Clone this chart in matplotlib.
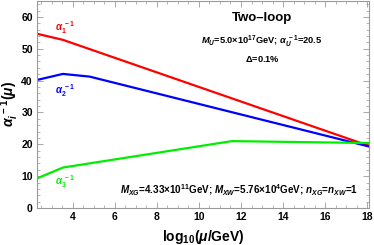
import matplotlib
matplotlib.use("Agg")
import matplotlib.pyplot as plt
from matplotlib.ticker import MultipleLocator

plt.rcParams['font.family'] = ['Liberation Sans', 'DejaVu Sans']
plt.rcParams['font.weight'] = 'bold'
plt.rcParams['mathtext.fontset'] = 'custom'
plt.rcParams['mathtext.rm'] = 'Liberation Sans:bold'
plt.rcParams['mathtext.it'] = 'Liberation Sans:bold:italic'
plt.rcParams['mathtext.bf'] = 'Liberation Sans:bold'

# running couplings (log10 mu, alpha^-1)
x1 = [2.29, 3.52, 18.1]
a1 = [54.7, 52.8, 19.5]
x2 = [2.29, 3.52, 4.8, 18.1]
a2 = [40.2, 42.1, 41.25, 19.3]
x3 = [2.29, 3.52, 11.57, 18.1]
a3 = [9.3, 12.7, 21.0, 20.4]

fig = plt.figure(figsize=(3.74, 2.45), dpi=100)
ax = fig.add_axes([0.099, 0.151, 0.888, 0.845])

ax.plot(x1, a1, color='#ff0000', lw=1.6)
ax.plot(x2, a2, color='#0000ff', lw=1.6)
ax.plot(x3, a3, color='#00ee00', lw=1.6)

ax.set_xlim(2.29, 18.1)
ax.set_ylim(0, 65)
ax.xaxis.set_major_locator(MultipleLocator(2))
ax.xaxis.set_minor_locator(MultipleLocator(0.5))
ax.yaxis.set_major_locator(MultipleLocator(10))
ax.yaxis.set_minor_locator(MultipleLocator(2))
ax.tick_params(which='both', direction='in', top=True, right=True, color='#999999',
               labelsize=7.5, pad=3)
ax.tick_params(which='major', length=4, width=0.6)
ax.tick_params(which='minor', length=2, width=0.5)
for s in ax.spines.values():
    s.set_color('#999999')
    s.set_linewidth(0.8)

ax.set_xlabel(r'$\mathrm{log_{10}(}\mu\mathrm{/GeV)}$', fontsize=10, labelpad=4)
ax.set_ylabel(r'$\alpha_{i}^{\ -1}(\mu)$', fontsize=10, labelpad=0)

ax.text(3.15, 56.5, r'$\alpha_1^{\ -1}$', color='#ff0000', fontsize=7, va='center')
ax.text(3.15, 36.9, r'$\alpha_2^{\ -1}$', color='#0000ff', fontsize=7, va='center')
ax.text(3.15, 8.4, r'$\alpha_3^{\ -1}$', color='#00ee00', fontsize=7, va='center')

ax.text(13.0, 59.7, 'Two\u2013loop', fontsize=9.5, ha='center', va='center')
ax.text(13.0, 52.5, r'$M_U$=5.0$\times$10$^{17}$GeV; $\alpha_U^{\ -1}$=20.5',
        fontsize=6.7, ha='center', va='center')
ax.text(13.0, 46.9, r'$\Delta$=0.1%', fontsize=6.7, ha='center', va='center')
ax.text(11.9, 5.6, r'$M_{XG}$=4.33$\times$10$^{11}$GeV; $M_{XW}$=5.76$\times$10$^4$GeV; $n_{XG}$=$n_{XW}$=1',
        fontsize=7.1, ha='center', va='center')

fig.savefig('out.png', dpi=100)
